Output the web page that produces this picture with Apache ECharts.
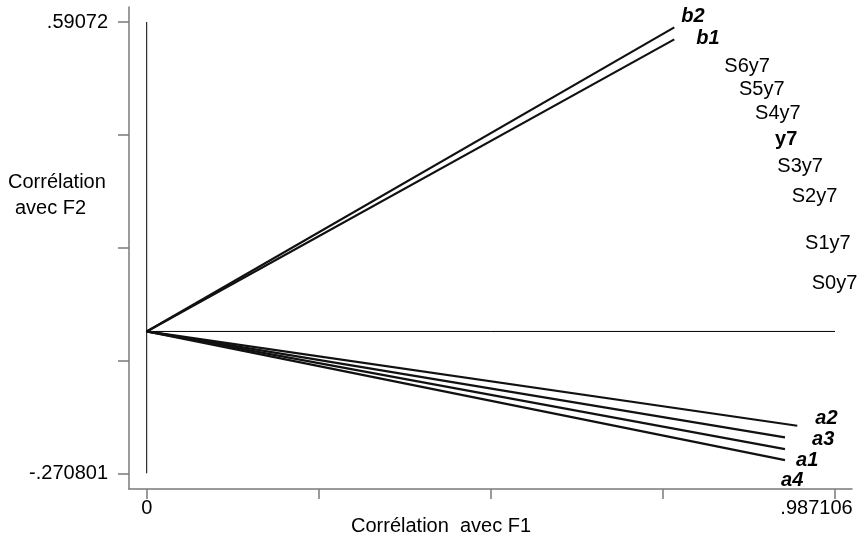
<!DOCTYPE html>
<html>
<head>
<meta charset="utf-8">
<script src="https://cdn.jsdelivr.net/npm/echarts@6/dist/echarts.min.js"></script>
<style>
  html, body { margin: 0; padding: 0; background: #ffffff; }
  #chart { width: 863px; height: 543px; }
</style>
</head>
<body>
<div id="chart"></div>
<script>
// Active variables: drawn as vectors from the origin (F1, F2 correlations)
const vectorNames = ['b2', 'b1', 'a2', 'a3', 'a1', 'a4'];
const vectorF1 = [0.7566, 0.7566, 0.9330, 0.9154, 0.9154, 0.9154];
const vectorF2 = [0.5805, 0.5576, -0.1800, -0.2022, -0.2245, -0.2455];

// Supplementary variables: shown by their names only
const suppNames = ['S6y7', 'S5y7', 'S4y7', 'y7', 'S3y7', 'S2y7', 'S1y7', 'S0y7'];
const suppF1 = [0.8283, 0.8494, 0.8724, 0.9010, 0.9043, 0.9250, 0.9441, 0.9537];
const suppF2 = [0.5061, 0.4614, 0.4169, 0.3673, 0.3152, 0.2579, 0.1688, 0.0924];

// Axis ticks (five per axis); only the extremes carry a label
const xTicks = [0, 0.2467765, 0.493553, 0.7403295, 0.987106];
const yTicks = [-0.270801, -0.0554208, 0.1599595, 0.3753398, 0.59072];
const xTickLabels = ['0', '.987106'];
const yTickLabels = ['-.270801', '.59072'];

// Label placement for the vector names: [dx, dy] from the vector tip
const vectorLabelNudge = {
  b2: [7, -11], b1: [22, -1], a2: [18, -7], a3: [27, 2], a1: [11, 11], a4: [-4, 20]
};
const boldUpright = ['y7'];

const FONT = '"Liberation Sans", Arial, Helvetica, sans-serif';
const INK = '#000000';
const AXIS_GREY = '#7a7a7a';

const chart = echarts.init(document.getElementById('chart'), null, { renderer: 'canvas' });

const series = [];

// Reference lines through the origin, spanning the tick range
series.push({
  type: 'line', silent: true, symbol: 'none', animation: false,
  lineStyle: { color: INK, width: 1 },
  data: [[0, yTicks[0]], [0, yTicks[yTicks.length - 1]]]
});
series.push({
  type: 'line', silent: true, symbol: 'none', animation: false,
  lineStyle: { color: INK, width: 1 },
  data: [[xTicks[0], 0], [xTicks[xTicks.length - 1], 0]]
});

// One segment per active variable
vectorNames.forEach((name, i) => {
  series.push({
    type: 'line', silent: true, symbol: 'none', animation: false,
    lineStyle: { color: '#111111', width: 2.2 },
    data: [[0, 0], [vectorF1[i], vectorF2[i]]]
  });
});

const labelBase = {
  show: true, position: 'right', distance: 0,
  fontFamily: FONT, fontSize: 20, color: INK, opacity: 1,
  textBorderWidth: 0, textShadowBlur: 0
};

// Names at the vector tips
series.push({
  type: 'scatter', silent: true, animation: false,
  symbol: 'circle', symbolSize: 0.1,
  itemStyle: { color: INK, opacity: 1 },
  emphasis: { disabled: true },
  data: vectorNames.map((name, i) => ({
    value: [vectorF1[i], vectorF2[i]],
    name: name,
    label: Object.assign({}, labelBase, {
      offset: vectorLabelNudge[name],
      formatter: name,
      fontWeight: 'bold', fontStyle: 'italic'
    })
  }))
});

// Supplementary variable names
series.push({
  type: 'scatter', silent: true, animation: false,
  symbol: 'circle', symbolSize: 0.1,
  itemStyle: { color: INK, opacity: 1 },
  emphasis: { disabled: true },
  data: suppNames.map((name, i) => ({
    value: [suppF1[i], suppF2[i]],
    name: name,
    label: Object.assign({}, labelBase, {
      formatter: name,
      fontWeight: boldUpright.includes(name) ? 'bold' : 'normal'
    })
  }))
});

const fmtLabel = (ticks, labels) => (v) => {
  const first = ticks[0], last = ticks[ticks.length - 1];
  if (Math.abs(v - first) < 1e-9) return labels[0];
  if (Math.abs(v - last) < 1e-9) return labels[1];
  return '';
};

chart.setOption({
  animation: false,
  backgroundColor: '#ffffff',
  grid: { left: 129, right: 11, top: 7, bottom: 54, containLabel: false },
  xAxis: {
    type: 'value',
    min: -0.02538, max: 1.01148,
    splitLine: { show: false },
    axisLine: { show: true, onZero: false, lineStyle: { color: AXIS_GREY, width: 1.5 } },
    axisTick: { show: true, inside: false, length: 10, customValues: xTicks,
                lineStyle: { color: AXIS_GREY, width: 1.5 } },
    axisLabel: {
      show: true, margin: 9,
      customValues: [xTicks[0], xTicks[xTicks.length - 1]],
      formatter: (v) => {
        const s = fmtLabel(xTicks, xTickLabels)(v);
        return Math.abs(v - xTicks[xTicks.length - 1]) < 1e-9 ? '{end|' + s + '}' : s;
      },
      fontFamily: FONT, fontSize: 20, color: INK,
      rich: { end: { fontFamily: FONT, fontSize: 20, color: INK, padding: [0, 37, 0, 0] } }
    }
  },
  yAxis: {
    type: 'value',
    min: -0.30076, max: 0.61935,
    splitLine: { show: false },
    axisLine: { show: true, onZero: false, lineStyle: { color: AXIS_GREY, width: 1.5 } },
    axisTick: { show: true, inside: false, length: 11, customValues: yTicks,
                lineStyle: { color: AXIS_GREY, width: 1.5 } },
    axisLabel: {
      show: true, margin: 21,
      customValues: [yTicks[0], yTicks[yTicks.length - 1]],
      formatter: fmtLabel(yTicks, yTickLabels),
      fontFamily: FONT, fontSize: 20, color: INK,
      padding: [4, 0, 0, 0]
    }
  },
  graphic: [
    { type: 'text', left: 8, top: 172, silent: true,
      style: { text: 'Corrélation', font: '20px ' + FONT, fill: INK } },
    { type: 'text', left: 15, top: 198, silent: true,
      style: { text: 'avec F2', font: '20px ' + FONT, fill: INK } },
    { type: 'text', left: 351, top: 516, silent: true,
      style: { text: 'Corrélation  avec F1', font: '20px ' + FONT, fill: INK } }
  ],
  series: series
});
</script>
</body>
</html>
